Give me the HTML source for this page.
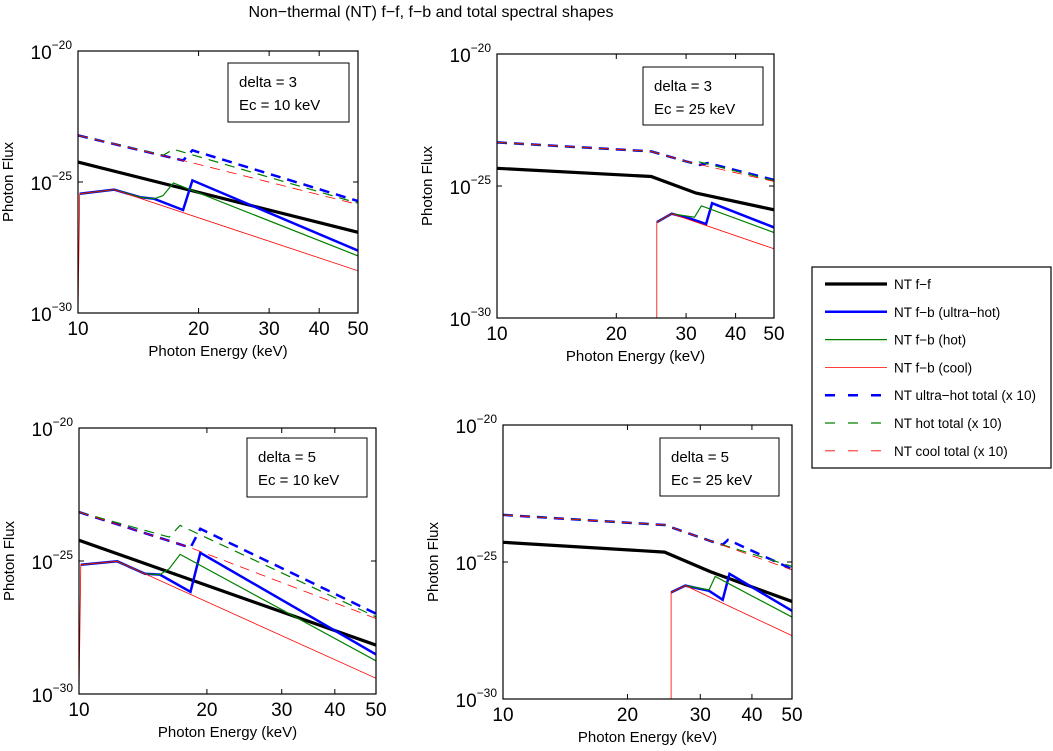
<!DOCTYPE html>
<html><head><meta charset="utf-8">
<style>
body{margin:0;background:#fff;}
svg{display:block;font-family:"Liberation Sans",sans-serif;}
</style></head>
<body>
<svg id="fig" width="1053" height="751" viewBox="0 0 1053 751">
<rect width="1053" height="751" fill="#fff"/>
<text x="431" y="17" text-anchor="middle" font-size="16">Non−thermal (NT) f−f, f−b and total spectral shapes</text>
</svg>
<script>
// ---- data (energy in keV, flux as log10 exponent) ----
// Top-left: delta=3, Ec=10
const tlFfE=[10,50], tlFf=[-24.24,-26.92];
const tlUhE=[10.1,12.3,14.3,15.5,18.3,19.3,50], tlUh=[-25.45,-25.29,-25.58,-25.64,-26.07,-24.94,-27.62];
const tlHotE=[10.1,12.3,14.3,15.5,16.3,17.3,50], tlHot=[-25.45,-25.29,-25.58,-25.64,-25.52,-25.04,-27.82];
const tlCoolE=[10,10.1,12.3,50], tlCool=[-30,-25.45,-25.29,-28.39];
const tlUhTotE=[10,18.3,19.3,50], tlUhTot=[-23.22,-24.18,-23.79,-25.73];
const tlHotTotE=[10,16.3,17.3,50], tlHotTot=[-23.22,-23.98,-23.75,-25.81];
const tlCoolTotE=[10,18.3,50], tlCoolTot=[-23.22,-24.18,-25.86];
// Top-right: delta=3, Ec=25
const trFfE=[10,24.5,31.8,50], trFf=[-24.33,-24.64,-25.27,-25.9];
const trUhE=[25.3,27.6,30.8,33.7,34.9,50], trUh=[-26.37,-26.05,-26.24,-26.44,-25.65,-26.57];
const trHotE=[25.3,27.6,31.5,32.8,50], trHot=[-26.37,-26.05,-26.18,-25.75,-26.76];
const trCoolE=[25.3,25.3,27.6,50], trCool=[-30,-26.37,-26.05,-27.38];
const trUhTotE=[10,24.5,30,32.5,34,50], trUhTot=[-23.35,-23.69,-24.07,-24.2,-24.13,-24.77];
const trHotTotE=[10,24.5,30,31,32,50], trHotTot=[-23.35,-23.69,-24.07,-24.13,-24.07,-24.8];
const trCoolTotE=[10,24.5,30,50], trCoolTot=[-23.35,-23.69,-24.07,-24.83];
// Bottom-left: delta=5, Ec=10
const blFfE=[10,50], blFf=[-24.22,-28.16];
const blUhE=[10.1,12.3,14.3,15.5,18.3,19.3,50], blUh=[-25.14,-25.01,-25.48,-25.51,-26.16,-24.69,-28.51];
const blHotE=[10.1,12.3,14.3,15.5,16.3,17.3,50], blHot=[-25.14,-25.01,-25.48,-25.51,-25.29,-24.75,-28.75];
const blCoolE=[10,10.1,12.3,50], blCool=[-30,-25.14,-25.01,-29.41];
const blUhTotE=[10,18.3,19.3,50], blUhTot=[-23.16,-24.5,-23.79,-26.98];
const blHotTotE=[10,16.3,17.3,50], blHotTot=[-23.16,-24.1,-23.66,-27.1];
const blCoolTotE=[10,18.3,50], blCoolTot=[-23.16,-24.5,-27.16];
// Bottom-right: delta=5, Ec=25
const brFfE=[10,24.6,31.7,50], brFf=[-24.28,-24.64,-25.35,-26.44];
const brUhE=[25.5,27.6,31.5,34,35.3,50], brUh=[-26.11,-25.86,-26.05,-26.38,-25.43,-26.78];
const brHotE=[25.5,27.6,31.5,32.6,50], brHot=[-26.11,-25.86,-26.02,-25.53,-27.01];
const brCoolE=[25.5,25.5,27.6,50], brCool=[-30,-26.11,-25.86,-27.69];
const brUhTotE=[10,24.6,32,34,35,50], brUhTot=[-23.28,-23.65,-24.25,-24.37,-24.19,-25.26];
const brHotTotE=[10,24.6,32,50], brHotTot=[-23.28,-23.65,-24.25,-25.16];
const brCoolTotE=[10,24.6,32,50], brCoolTot=[-23.28,-23.65,-24.25,-25.29];
const xTicks=[10,20,30,40,50];
const yTicks=[-30,-25,-20];
const legendLabels=["NT f−f","NT f−b (ultra−hot)","NT f−b (hot)","NT f−b (cool)","NT ultra−hot total (x 10)","NT hot total (x 10)","NT cool total (x 10)"];

const NS="http://www.w3.org/2000/svg";
const svg=document.getElementById('fig');
function mk(tag,attrs,parent){const e=document.createElementNS(NS,tag);for(const k in attrs)e.setAttribute(k,attrs[k]);(parent||svg).appendChild(e);return e;}

const styles=[
 {stroke:"#000",w:3.2,dash:""},
 {stroke:"#0000ff",w:2.5,dash:""},
 {stroke:"#008000",w:1.2,dash:""},
 {stroke:"#ff0000",w:0.8,dash:""},
 {stroke:"#0000ff",w:2.5,dash:"10,7"},
 {stroke:"#008000",w:1.2,dash:"10,7"},
 {stroke:"#ff0000",w:0.8,dash:"10,7"}
];
const seriesNames=["ff","fb-ultra-hot","fb-hot","fb-cool","ultra-hot-total","hot-total","cool-total"];

const panels=[
 {id:"top-left",x0:78,x1:358,y0:51,y1:313,box:[228,63,121,59],d:3,ec:10,
  s:[[tlFfE,tlFf],[tlUhE,tlUh],[tlHotE,tlHot],[tlCoolE,tlCool],[tlUhTotE,tlUhTot],[tlHotTotE,tlHotTot],[tlCoolTotE,tlCoolTot]]},
 {id:"top-right",x0:497,x1:774,y0:54,y1:318,box:[643,67,120,58],d:3,ec:25,
  s:[[trFfE,trFf],[trUhE,trUh],[trHotE,trHot],[trCoolE,trCool],[trUhTotE,trUhTot],[trHotTotE,trHotTot],[trCoolTotE,trCoolTot]]},
 {id:"bottom-left",x0:79,x1:376,y0:428,y1:694,box:[247,438,120,59],d:5,ec:10,
  s:[[blFfE,blFf],[blUhE,blUh],[blHotE,blHot],[blCoolE,blCool],[blUhTotE,blUhTot],[blHotTotE,blHotTot],[blCoolTotE,blCoolTot]]},
 {id:"bottom-right",x0:503,x1:792,y0:425,y1:699,box:[660,438,119,58],d:5,ec:25,
  s:[[brFfE,brFf],[brUhE,brUh],[brHotE,brHot],[brCoolE,brCool],[brUhTotE,brUhTot],[brHotTotE,brHotTot],[brCoolTotE,brCoolTot]]}
];

panels.forEach((p,pi)=>{
  const g=mk('g',{});
  
  
  const xs=e=>p.x0+(p.x1-p.x0)*Math.log10(e/10)/Math.log10(5);
  const ys=v=>p.y0+(p.y1-p.y0)*(-20-v)/10;
  const cid='clip'+pi;
  const cp=mk('clipPath',{id:cid},g);
  mk('rect',{x:p.x0,y:p.y0,width:p.x1-p.x0,height:p.y1-p.y0},cp);
  const order=[0,1,2,3,4,5,6];
  order.forEach(i=>{
    const [E,V]=p.s[i];
    const pts=E.map((e,k)=>xs(e).toFixed(1)+","+ys(V[k]).toFixed(1)).join(" ");
    const st=styles[i];
    const pl=mk('polyline',{points:pts,fill:"none",stroke:st.stroke,"stroke-width":st.w,"stroke-dasharray":st.dash,"clip-path":"url(#"+cid+")","stroke-linejoin":"miter"},g);
    
    
  });
  const fr=mk('rect',{x:p.x0,y:p.y0,width:p.x1-p.x0,height:p.y1-p.y0,fill:"none",stroke:"#000","stroke-width":1.2},g);
  
  
  xTicks.forEach(t=>{
    const x=xs(t);
    mk('line',{x1:x,x2:x,y1:p.y1,y2:p.y1-5,stroke:"#000","stroke-width":1},g);
    mk('line',{x1:x,x2:x,y1:p.y0,y2:p.y0+5,stroke:"#000","stroke-width":1},g);
    const tx=mk('text',{x:x,y:p.y1+22,"text-anchor":"middle","font-size":19},g);
    tx.textContent=t;
    
    
  });
  yTicks.forEach(t=>{
    const y=ys(t);
    mk('line',{x1:p.x0,x2:p.x0+5,y1:y,y2:y,stroke:"#000","stroke-width":1},g);
    mk('line',{x1:p.x1,x2:p.x1-5,y1:y,y2:y,stroke:"#000","stroke-width":1},g);
    const tx=mk('text',{x:p.x0-6,y:y+8,"text-anchor":"end","font-size":19},g);
    
    
    const a=mk('tspan',{},tx);a.textContent="10";
    const b=mk('tspan',{dy:-10,"font-size":12},tx);b.textContent="−"+Math.abs(t);
  });
  const xl=mk('text',{x:(p.x0+p.x1)/2,y:p.y1+43,"text-anchor":"middle","font-size":15},g);
  xl.textContent="Photon Energy (keV)";
  
  
  const yx=p.x0-65, yy=(p.y0+p.y1)/2;
  const yl=mk('text',{x:yx,y:yy,"text-anchor":"middle","font-size":15,transform:"rotate(-90 "+yx+" "+yy+")"},g);
  yl.textContent="Photon Flux";
  
  
  const [bx,by,bw,bh]=p.box;
  const ab=mk('rect',{x:bx,y:by,width:bw,height:bh,fill:"#fff",stroke:"#000","stroke-width":1},g);
  
  
  const t1=mk('text',{x:bx+11,y:by+24,"font-size":15},g);
  t1.textContent="delta = "+p.d;
  
  
  const t2=mk('text',{x:bx+11,y:by+47,"font-size":15},g);
  t2.textContent="Ec = "+p.ec+" keV";
  
  
});

// legend
const lg=mk('g',{});


mk('rect',{x:812,y:267,width:239,height:201,fill:"#fff",stroke:"#000","stroke-width":1.2},lg);
legendLabels.forEach((lab,i)=>{
  const y=284+i*27.8;
  const st=styles[i];
  const e=mk('g',{},lg);
  
  
  mk('line',{x1:825,x2:887,y1:y,y2:y,stroke:st.stroke,"stroke-width":st.w,"stroke-dasharray":st.dash?"10,13":""},e);
  const t=mk('text',{x:894,y:y+5,"font-size":13.5},e);
  t.textContent=lab;
});
</script>
</body></html>
